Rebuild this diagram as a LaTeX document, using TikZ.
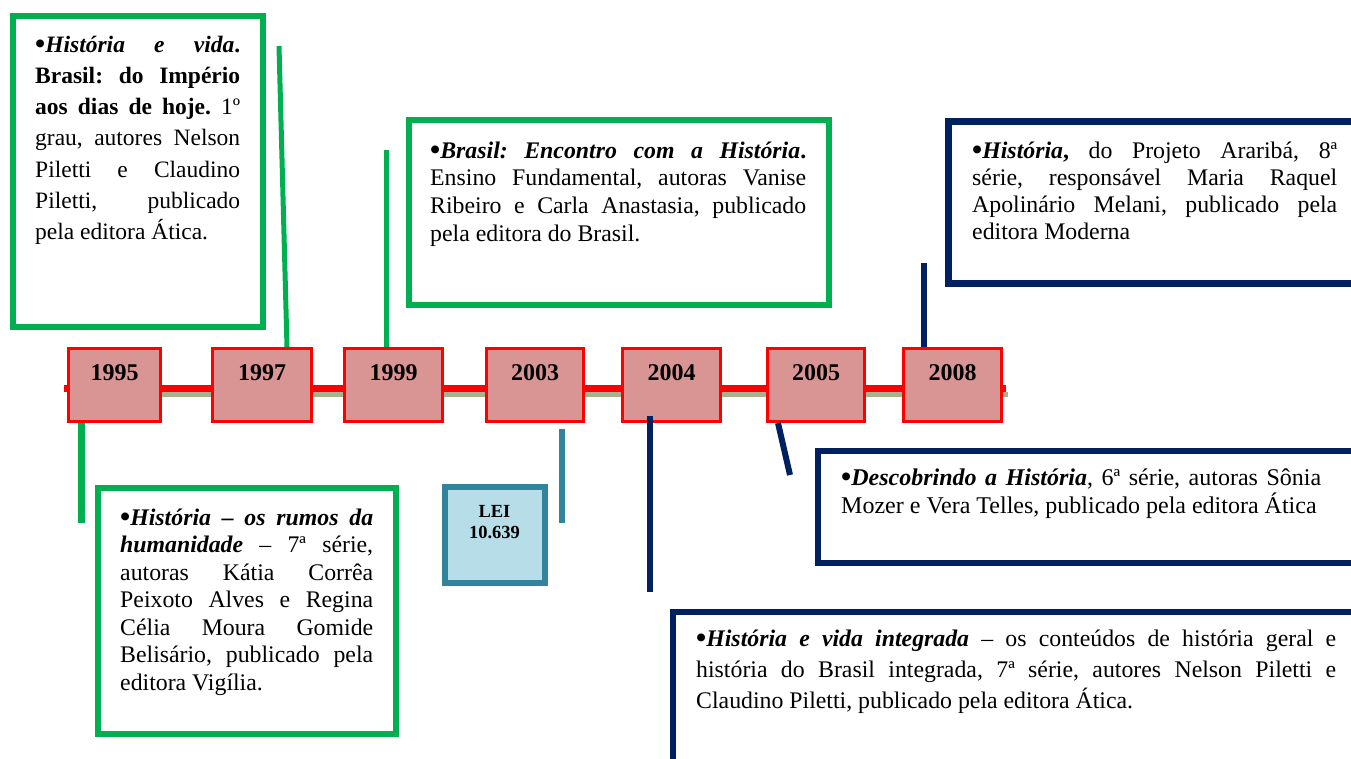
\documentclass[tikz,border=0pt]{standalone}
\usepackage{fontspec}
\setmainfont{Liberation Serif}
\tolerance=10000
\hyphenpenalty=10000
\exhyphenpenalty=10000
\hbadness=10000
\frenchspacing
\definecolor{bxgreen}{RGB}{0,176,80}
\definecolor{bxnavy}{RGB}{0,32,96}
\definecolor{tlred}{RGB}{255,0,0}
\definecolor{yrfill}{RGB}{217,149,148}
\definecolor{tlshadow}{RGB}{168,178,146}
\definecolor{leiteal}{RGB}{49,132,155}
\definecolor{leifill}{RGB}{183,221,232}
\newcommand{\bul}{\raisebox{-1.2pt}{\fontsize{29}{29}\selectfont\textbf{•}}}
\begin{document}
\begin{tikzpicture}[x=1pt,y=-1pt,
  frame/.style={draw, rectangle, inner sep=0pt, fill=white},
  greenframe/.style={frame, draw=bxgreen, line width=6pt},
  navyframe/.style={frame, draw=bxnavy, line width=7pt},
  yearbox/.style={draw=tlred, fill=yrfill, line width=3pt, rectangle, inner sep=0pt, minimum height=73pt},
  yeartext/.style={anchor=base, inner sep=0pt, font=\fontsize{24}{28}\selectfont\bfseries},
  body/.style={anchor=base west, inner sep=0pt, align=justify},
  greenline/.style={draw=bxgreen, line width=5pt},
  navyline/.style={draw=bxnavy, line width=6pt},
  tealline/.style={draw=leiteal, line width=6pt}
]
\useasboundingbox (0,0) rectangle (1351,758);
\clip (0,0) rectangle (1351,758);

% timeline
\coordinate (s1) at (68,394.5);
\coordinate (s2) at (1008,394.5);
\coordinate (r1) at (64,388);
\coordinate (r2) at (1006,388);
\draw[draw=tlshadow, line width=5pt] (s1) -- (s2);
\draw[draw=tlred, line width=7pt] (r1) -- (r2);

% year boxes
\node[yearbox, minimum width=92pt] (y1995) at (114.5,385) {};
\node[yearbox, minimum width=99pt] (y1997) at (262,385) {};
\node[yearbox, minimum width=98pt] (y1999) at (393.5,385) {};
\node[yearbox, minimum width=97pt] (y2003) at (535,385) {};
\node[yearbox, minimum width=98pt] (y2004) at (671.5,385) {};
\node[yearbox, minimum width=97pt] (y2005) at (816,385) {};
\node[yearbox, minimum width=98pt] (y2008) at (952.5,385) {};
\node[yeartext] (t1995) at (114.5,380) {1995};
\node[yeartext] (t1997) at (262,380) {1997};
\node[yeartext] (t1999) at (393.5,380) {1999};
\node[yeartext] (t2003) at (535,380) {2003};
\node[yeartext] (t2004) at (671.5,380) {2004};
\node[yeartext] (t2005) at (816,380) {2005};
\node[yeartext] (t2008) at (952.5,380) {2008};

% frames
\node[greenframe, minimum width=250pt, minimum height=311pt] (f1997) at (138,171.5) {};
\node[greenframe, minimum width=420pt, minimum height=185pt] (f1999) at (619,212.5) {};
\node[navyframe, minimum width=412pt, minimum height=162pt] (f2008) at (1154,202) {};
\node[greenframe, minimum width=298pt, minimum height=246pt] (f1995) at (247,611) {};
\node[frame, draw=leiteal, fill=leifill, line width=6pt, minimum width=100pt, minimum height=95.5pt] (flei) at (494.5,534.75) {};
\node[navyframe, line width=6pt, minimum width=542pt, minimum height=112pt] (f2005) at (1089,507) {};
\node[navyframe, line width=6pt, minimum width=687pt, minimum height=158pt] (f2004) at (1016.5,691) {};

% texts
\node[body, text width=205pt, font=\fontsize{23.5}{31.3}\selectfont] (x1997) at (35,52)
{\bul\textbf{\textit{História e vida}.}\linebreak
\textbf{Brasil: do Império}\linebreak
\textbf{aos dias de hoje.} 1º\linebreak
grau, autores Nelson\linebreak
Piletti e Claudino\linebreak
Piletti, publicado\linebreak
pela editora Ática.};

\node[body, text width=376pt, font=\fontsize{23.8}{27.7}\selectfont] (x1999) at (430,158)
{\bul\textbf{\textit{Brasil: Encontro com a História}.}\linebreak
Ensino Fundamental, autoras Vanise\linebreak
Ribeiro e Carla Anastasia, publicado\linebreak
pela editora do Brasil.};

\node[body, text width=365pt, font=\fontsize{23.8}{27.3}\selectfont] (x2008) at (972,158)
{\bul\textbf{\textit{História},} do Projeto Araribá, 8ª\linebreak
série, responsável Maria Raquel\linebreak
Apolinário Melani, publicado pela\linebreak
editora Moderna};

\node[body, text width=253pt, font=\fontsize{23.8}{27.5}\selectfont] (x1995) at (120,525)
{\bul\textbf{\textit{História – os rumos da}}\linebreak
\textbf{\textit{humanidade}} – 7ª série,\linebreak
autoras Kátia Corrêa\linebreak
Peixoto Alves e Regina\linebreak
Célia Moura Gomide\linebreak
Belisário, publicado pela\linebreak
editora Vigília.};

\node[body, text width=480pt, font=\fontsize{24}{28.5}\selectfont] (x2005) at (841,485)
{\bul\textbf{\textit{Descobrindo a História}}, 6ª série, autoras Sônia\linebreak
Mozer e Vera Telles, publicado pela editora Ática};

\node[body, text width=640pt, font=\fontsize{23.8}{31.3}\selectfont] (x2004) at (696,646)
{\bul\textbf{\textit{História e vida integrada}} – os conteúdos de história geral e\linebreak
história do Brasil integrada, 7ª série, autores Nelson Piletti e\linebreak
Claudino Piletti, publicado pela editora Ática.};

\node[anchor=base, inner sep=0pt, align=center, font=\fontsize{18.5}{21}\selectfont\bfseries] (xlei) at (494.5,538) {LEI\\10.639};

% connectors
\coordinate (k1995) at (81,523);
\coordinate (k1997) at (279,46);
\coordinate (k1999) at (386,150);
\coordinate (k2003a) at (562,429);
\coordinate (k2003b) at (562,523);
\coordinate (k2004a) at (650,416);
\coordinate (k2004b) at (650,592);
\coordinate (k2005) at (790,475);
\coordinate (k2008) at (924,263);
\draw[greenline, line width=7pt] ([xshift=-33.5pt]y1995.south) -- (k1995);
\draw[greenline] (k1997) -- ([xshift=25pt]y1997.north);
\draw[greenline] (k1999) -- ([xshift=-7.5pt]y1999.north);
\draw[tealline] (k2003a) -- (k2003b);
\draw[navyline] (k2004a) -- (k2004b);
\draw[navyline] ([xshift=-38pt]y2005.south) -- (k2005);
\draw[navyline] (k2008) -- ([xshift=-28.5pt]y2008.north);
\end{tikzpicture}
\end{document}
